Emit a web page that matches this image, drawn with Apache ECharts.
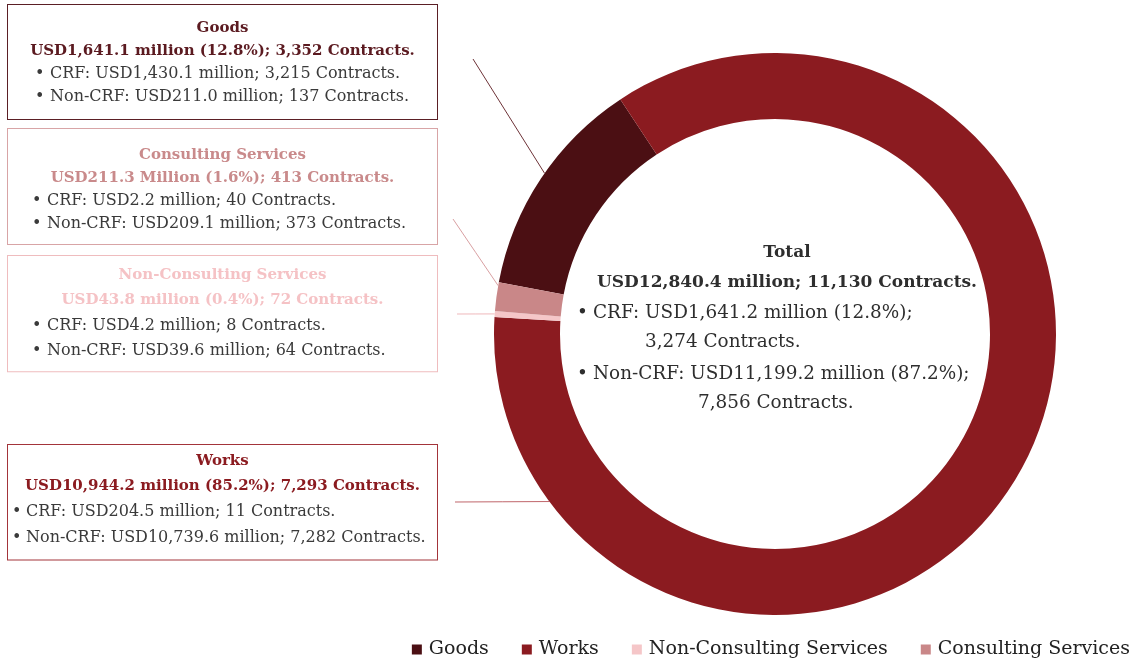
<!DOCTYPE html>
<html><head><meta charset="utf-8">
<script src="https://cdn.jsdelivr.net/npm/echarts@6/dist/echarts.min.js"></script>
<style>html,body{margin:0;padding:0;background:#fff}#c{width:1137px;height:661px}</style>
</head><body><div id="c"></div>
<script>
// ---- data ----
const categories = ['Goods', 'Works', 'Non-Consulting Services', 'Consulting Services'];
const amounts = [1641.1, 10944.2, 43.8, 211.3];
const shares = [12.8, 85.2, 0.4, 1.6];
const contracts = [3352, 7293, 72, 413];
const unitWords = ['million', 'million', 'million', 'Million'];
const crfAmounts = [1430.1, 204.5, 4.2, 2.2];
const crfContracts = [3215, 11, 8, 40];
const nonCrfAmounts = [211.0, 10739.6, 39.6, 209.1];
const nonCrfContracts = [137, 7282, 64, 373];
const totalAmount = 12840.4;
const totalContracts = 11130;
const totalCrf = [1641.2, 12.8, 3274];
const totalNonCrf = [11199.2, 87.2, 7856];

// ---- style / layout ----
const FONT = '"DejaVu Serif", serif';
const sliceColors = ['#4b0f13', '#8b1b20', '#f5c6c8', '#c98788'];
const titleColors = ['#5b1a20', '#8b1b20', '#f5c2c5', '#c98a8b'];
const borderColors = ['#5b1f25', '#a3343a', '#efbcbe', '#d8a4a6'];
const lineColors = ['#6e3338', '#c0666b', '#f0b9bc', '#d9a0a2'];
const CX = 775, CY = 334, R0 = 215, R1 = 281;
const boxes = [
  {x: 8, y: 5,   w: 429, lh: 23,   pt: 11.5, pb: 10.5, ind: 27, bul: 15, from: [473, 59],  ang: 145.1},
  {x: 8, y: 445, w: 429, lh: 25.6, pt: 3.2,  pb: 9,    ind: 4,  bul: 14, from: [455, 502], ang: 216.6},
  {x: 8, y: 256, w: 429, lh: 25.3, pt: 6.3,  pb: 7.7,  ind: 24, bul: 15, from: [457, 314], ang: 175.9},
  {x: 8, y: 129, w: 429, lh: 23,   pt: 14.5, pb: 8.5,  ind: 24, bul: 15, from: [453, 219], ang: 170.1}
];

function fmt(v, d) {
  return v.toLocaleString('en-US', {minimumFractionDigits: d, maximumFractionDigits: d});
}

const pieData = categories.map(function (name, i) {
  const b = boxes[i];
  const text = '{t|' + name + '}\n' +
    '{t|USD' + fmt(amounts[i], 1) + ' ' + unitWords[i] + ' (' + fmt(shares[i], 1) + '%); ' + fmt(contracts[i], 0) + ' Contracts.}\n' +
    '{ind| }{bul|•}{b|CRF: USD' + fmt(crfAmounts[i], 1) + ' million; ' + fmt(crfContracts[i], 0) + ' Contracts.}\n' +
    '{ind| }{bul|•}{b|Non-CRF: USD' + fmt(nonCrfAmounts[i], 1) + ' million; ' + fmt(nonCrfContracts[i], 0) + ' Contracts.}';
  return {
    name: name,
    value: amounts[i],
    itemStyle: {color: sliceColors[i]},
    label: {
      show: true,
      formatter: text,
      width: b.w,
      overflow: 'none',
      lineHeight: b.lh,
      padding: [b.pt, 0, b.pb, 0],
      backgroundColor: '#ffffff',
      borderColor: borderColors[i],
      borderWidth: 1,
      fontFamily: FONT,
      rich: {
        t: {fontFamily: FONT, fontWeight: 'bold', fontSize: 15, color: titleColors[i], align: 'center', lineHeight: b.lh},
        ind: {width: b.ind, fontSize: 16, lineHeight: b.lh},
        bul: {width: b.bul, fontFamily: FONT, fontSize: 16, color: '#3a3a3a', lineHeight: b.lh},
        b: {fontFamily: FONT, fontSize: 16, color: '#3a3a3a', lineHeight: b.lh}
      }
    },
    labelLine: {show: true, lineStyle: {color: lineColors[i], width: 1}}
  };
});

const chart = echarts.init(document.getElementById('c'), null, {renderer: 'canvas'});

const cText = function (txt, x, y, bold, align) {
  return {
    type: 'text', x: x, y: y, silent: true,
    style: {text: txt, fill: '#2e2e2e', fontFamily: FONT, fontSize: bold ? 17 : 18.4,
      fontWeight: bold ? 'bold' : 'normal', align: align, verticalAlign: 'middle'}
  };
};

chart.setOption({
  animation: false,
  backgroundColor: '#ffffff',
  legend: {
    data: categories,
    right: 2, top: 635,
    icon: 'rect', itemWidth: 10, itemHeight: 10, itemGap: 33,
    textStyle: {fontFamily: FONT, fontSize: 19, color: '#222', padding: [0, 0, 0, 2]}
  },
  graphic: [
    cText('Total', 787, 253, true, 'center'),
    cText('USD' + fmt(totalAmount, 1) + ' million; ' + fmt(totalContracts, 0) + ' Contracts.', 787, 283, true, 'center'),
    cText('•', 577, 313, false, 'left'),
    cText('CRF: USD' + fmt(totalCrf[0], 1) + ' million (' + fmt(totalCrf[1], 1) + '%);', 593, 313, false, 'left'),
    cText(fmt(totalCrf[2], 0) + ' Contracts.', 645, 342, false, 'left'),
    cText('•', 577, 374, false, 'left'),
    cText('Non-CRF: USD' + fmt(totalNonCrf[0], 1) + ' million (' + fmt(totalNonCrf[1], 1) + '%);', 593, 374, false, 'left'),
    cText(fmt(totalNonCrf[2], 0) + ' Contracts.', 698, 403, false, 'left')
  ],
  series: [{
    type: 'pie',
    left: 0, top: 0, width: 4000, height: 661,
    center: [CX, CY],
    radius: [R0, R1],
    startAngle: 169.4,
    clockwise: true,
    avoidLabelOverlap: false,
    emphasis: {disabled: true},
    label: {position: 'outside'},
    labelLayout: function (p) {
      const b = boxes[p.dataIndex];
      const a = b.ang * Math.PI / 180;
      const rx = CX + R1 * Math.cos(a), ry = CY - R1 * Math.sin(a);
      return {
        x: b.x, y: b.y, align: 'left', verticalAlign: 'top',
        labelLinePoints: [[rx, ry], [(rx + b.from[0]) / 2, (ry + b.from[1]) / 2], [b.from[0], b.from[1]]]
      };
    },
    data: pieData
  }]
});
</script>
</body></html>
